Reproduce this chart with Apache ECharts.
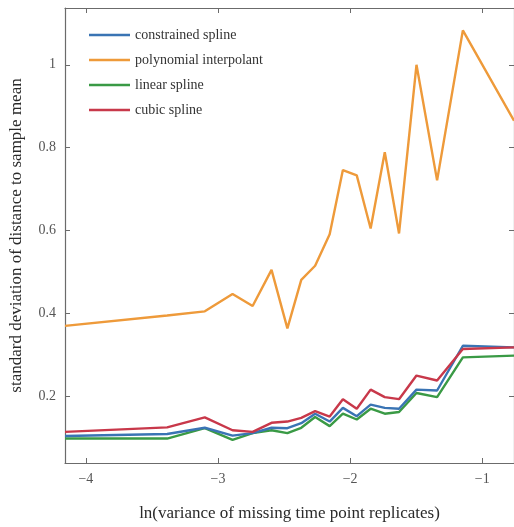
<!DOCTYPE html>
<html>
<head>
<meta charset="utf-8">
<script src="https://cdn.jsdelivr.net/npm/echarts@6/dist/echarts.min.js"></script>
<style>html,body{margin:0;padding:0;background:#fff}#c{width:514px;height:527px}</style>
</head>
<body>
<div id="c"></div>
<script>
const xValues = [-4.158, -3.385, -3.10, -2.89, -2.738, -2.595, -2.475, -2.37, -2.265, -2.155, -2.055, -1.95, -1.845, -1.738, -1.63, -1.498, -1.342, -1.147, -0.76];
const constrainedSpline = [0.104, 0.109, 0.124, 0.105, 0.111, 0.124, 0.123, 0.135, 0.158, 0.139, 0.172, 0.152, 0.180, 0.172, 0.170, 0.216, 0.214, 0.322, 0.318];
const polynomialInterpolant = [0.370, 0.395, 0.405, 0.447, 0.418, 0.505, 0.364, 0.481, 0.515, 0.591, 0.746, 0.733, 0.605, 0.789, 0.593, 1.000, 0.721, 1.083, 0.865];
const linearSpline = [0.098, 0.098, 0.123, 0.095, 0.111, 0.118, 0.111, 0.124, 0.150, 0.128, 0.158, 0.144, 0.170, 0.158, 0.162, 0.208, 0.198, 0.294, 0.298];
const cubicSpline = [0.114, 0.125, 0.149, 0.118, 0.114, 0.136, 0.139, 0.148, 0.164, 0.151, 0.193, 0.170, 0.216, 0.198, 0.193, 0.250, 0.238, 0.314, 0.318];
const seriesNames = ['constrained spline', 'polynomial interpolant', 'linear spline', 'cubic spline'];
const colors = ['#3a74b4', '#ee9a3a', '#3a9a45', '#c8384a'];
const xTicks = [-4, -3, -2, -1];
const yTicks = [0.2, 0.4, 0.6, 0.8, 1];

const font = '"Liberation Serif", "DejaVu Serif", serif';
const axisColor = '#6b6b6b';
const fmtMinus = v => String(v).replace('-', '\u2212');

function pairs(ys) { return xValues.map((x, i) => [x, ys[i]]); }
const allData = [constrainedSpline, polynomialInterpolant, linearSpline, cubicSpline];

const chart = echarts.init(document.getElementById('c'), null, {renderer: 'canvas'});
const xmin = -4.158, xmax = -0.76, ymin = 0.039, ymax = 1.137;
const tickStyle = {show: true, inside: true, length: 5, lineStyle: {color: axisColor, width: 1}};
chart.setOption({
  animation: false,
  backgroundColor: '#fff',
  grid: {left: 63, top: 8, width: 453, height: 456, containLabel: false},
  legend: {
    orient: 'vertical', left: 84, top: 23, itemGap: 11,
    itemWidth: 41, itemHeight: 14, icon: 'path://M0,6 L41,6 L41,8.5 L0,8.5 Z',
    textStyle: {fontFamily: font, fontSize: 14, color: '#333'},
    data: seriesNames
  },
  xAxis: [{
    type: 'value', min: xmin, max: xmax, position: 'bottom',
    name: 'ln(variance of missing time point replicates)', nameLocation: 'middle', nameGap: 42,
    nameTextStyle: {fontFamily: font, fontSize: 17, color: '#2a2a2a'},
    axisLine: {show: true, lineStyle: {color: axisColor, width: 1.2}},
    axisTick: Object.assign({customValues: xTicks}, tickStyle),
    axisLabel: {customValues: xTicks, formatter: fmtMinus, fontFamily: font, fontSize: 14, color: '#555', margin: 9},
    splitLine: {show: false}
  }, {
    type: 'value', min: xmin, max: xmax, position: 'top',
    axisLine: {show: true, lineStyle: {color: axisColor, width: 1.2}},
    axisTick: Object.assign({customValues: xTicks}, tickStyle),
    axisLabel: {show: false}, splitLine: {show: false}
  }],
  yAxis: [{
    type: 'value', min: ymin, max: ymax, position: 'left',
    name: 'standard deviation of distance to sample mean', nameLocation: 'middle', nameGap: 40,
    nameTextStyle: {fontFamily: font, fontSize: 17, color: '#2a2a2a'},
    axisLine: {show: true, lineStyle: {color: axisColor, width: 1.2}},
    axisTick: Object.assign({customValues: yTicks}, tickStyle),
    axisLabel: {customValues: yTicks, formatter: v => String(+v.toFixed(2)), fontFamily: font, fontSize: 14, color: '#555', margin: 9},
    splitLine: {show: false}
  }, {
    type: 'value', min: ymin, max: ymax, position: 'right',
    axisLine: {show: true, lineStyle: {color: axisColor, width: 1.2}},
    axisTick: Object.assign({customValues: yTicks}, tickStyle),
    axisLabel: {show: false}, splitLine: {show: false}
  }],
  series: seriesNames.map((n, i) => ({
    name: n, type: 'line', xAxisIndex: 0, yAxisIndex: 0,
    data: pairs(allData[i]), showSymbol: false, symbol: 'none',
    lineStyle: {color: colors[i], width: 2.4}, itemStyle: {color: colors[i]},
    z: i === 3 ? 5 : (i === 0 ? 4 : 3)
  }))
});
</script>
</body>
</html>
